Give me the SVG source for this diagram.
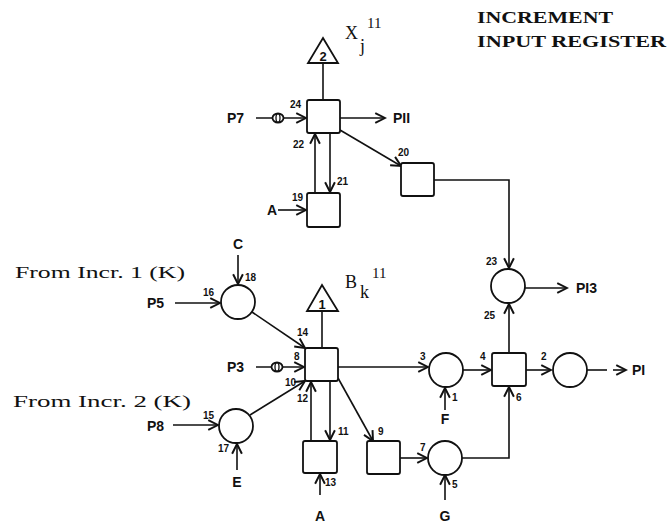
<svg xmlns="http://www.w3.org/2000/svg" width="669" height="527" viewBox="0 0 669 527">
<defs>
<marker id="ah" markerWidth="13" markerHeight="13" refX="10" refY="5" orient="auto" markerUnits="userSpaceOnUse" viewBox="0 0 12 10">
<path d="M1,0.5 L10,5 L1,9.5" fill="none" stroke="#111" stroke-width="1.8"/>
</marker>
</defs>
<style>
.n{fill:#fff;stroke:#111;stroke-width:1.8}
.c{fill:none;stroke:#111;stroke-width:1.6}
.a{fill:none;stroke:#111;stroke-width:1.6;marker-end:url(#ah)}
.l{font-family:"Liberation Sans",Arial,sans-serif;font-weight:bold;font-size:14px;fill:#111}
.s{font-family:"Liberation Sans",Arial,sans-serif;font-weight:bold;font-size:10px;fill:#111}
.d{font-family:"Liberation Sans",Arial,sans-serif;font-weight:bold;font-size:13px;fill:#111}
.t{font-family:"Liberation Serif","Times New Roman",serif;font-size:17px;fill:#111}
.x{font-family:"Liberation Serif","Times New Roman",serif;font-size:18px;fill:#111}
.u{font-family:"Liberation Serif","Times New Roman",serif;font-size:15px;fill:#111}
.tb{font-family:"Liberation Serif","Times New Roman",serif;font-size:17px;fill:#111;font-weight:bold}
</style>
<rect width="669" height="527" fill="#fff"/>

<g id="title">
<text class="tb" x="477" y="23" textLength="136" lengthAdjust="spacingAndGlyphs">INCREMENT</text>
<text class="tb" x="477" y="47" textLength="189" lengthAdjust="spacingAndGlyphs">INPUT REGISTER</text>
</g>
<g id="incr1"><text class="t" x="15" y="278" textLength="170" lengthAdjust="spacingAndGlyphs">From Incr. 1 (K)</text></g>
<g id="incr2"><text class="t" x="13" y="407" textLength="178" lengthAdjust="spacingAndGlyphs">From Incr. 2 (K)</text></g>

<g id="connectors">
<line class="c" x1="323" y1="63" x2="323" y2="100"/>
<line class="a" x1="256" y1="118" x2="306" y2="118"/>
<line class="a" x1="340" y1="118" x2="385" y2="118"/>
<line class="a" x1="315" y1="193" x2="315" y2="134"/>
<line class="a" x1="330" y1="133" x2="330" y2="192"/>
<line class="a" x1="278" y1="210" x2="306" y2="210"/>
<line class="a" x1="340" y1="130" x2="401" y2="166"/>
<polyline class="a" points="434,180 509,180 509,268"/>
<line class="a" x1="525" y1="288" x2="567" y2="288"/>
<line class="a" x1="509" y1="353" x2="509" y2="304"/>
<line class="a" x1="238" y1="255" x2="238" y2="284"/>
<line class="a" x1="175" y1="303" x2="220" y2="303"/>
<line class="a" x1="252" y1="312" x2="305" y2="348"/>
<line class="c" x1="322" y1="311" x2="322" y2="348"/>
<line class="a" x1="256" y1="367" x2="304" y2="367"/>
<line class="a" x1="338" y1="367" x2="428" y2="367"/>
<line class="a" x1="173" y1="425" x2="218" y2="425"/>
<line class="a" x1="237" y1="470" x2="237" y2="444"/>
<line class="a" x1="250" y1="415" x2="305" y2="381"/>
<line class="a" x1="311" y1="441" x2="311" y2="382"/>
<line class="a" x1="330" y1="381" x2="330" y2="440"/>
<line class="a" x1="320" y1="495" x2="320" y2="474"/>
<line class="a" x1="338" y1="378" x2="373" y2="441"/>
<line class="a" x1="400" y1="458" x2="427" y2="458"/>
<line class="a" x1="445" y1="500" x2="445" y2="475"/>
<line class="a" x1="445" y1="410" x2="445" y2="388"/>
<polyline class="a" points="462,458 509,458 509,387"/>
<line class="a" x1="463" y1="370" x2="491" y2="370"/>
<line class="a" x1="526" y1="370" x2="551" y2="370"/>
<line class="c" x1="587" y1="370" x2="607" y2="370"/>
<line class="a" x1="613" y1="370" x2="626" y2="370"/>
</g>

<g id="n2"><path class="n" d="M323,38 L338,63 L308,63 Z"/><text class="d" x="323" y="61" text-anchor="middle">2</text></g>
<g id="xj"><text class="x" x="345" y="39">X</text><text class="x" x="360" y="52">j</text><text class="u" x="367" y="28">11</text></g>
<g id="n24"><rect class="n" x="307" y="100" width="33" height="33" rx="2"/></g>
<g id="p7"><text class="l" x="227" y="123">P7</text>
<ellipse cx="278" cy="118" rx="5.5" ry="4.5" class="n"/><ellipse cx="278" cy="118" rx="2" ry="4.3" fill="none" stroke="#111" stroke-width="1.3"/></g>
<g id="p11"><text class="l" x="393" y="123">PII</text></g>
<g id="n19"><rect class="n" x="307" y="193" width="33" height="34" rx="2"/></g>
<g id="n20"><rect class="n" x="401" y="163" width="33" height="33" rx="2"/></g>
<g id="n23"><circle class="n" cx="508" cy="286" r="17"/><text class="l" x="576" y="293">PI3</text></g>
<g id="n16"><circle class="n" cx="238" cy="302" r="17"/></g>
<g id="n1"><path class="n" d="M322,285 L338,311 L307,311 Z"/><text class="d" x="322" y="309" text-anchor="middle">1</text></g>
<g id="bk"><text class="x" x="345" y="288">B</text><text class="x" x="360" y="298">k</text><text class="u" x="372" y="278">11</text></g>
<g id="n8"><rect class="n" x="305" y="348" width="33" height="33" rx="2"/></g>
<g id="p3"><text class="l" x="227" y="372">P3</text>
<ellipse cx="277" cy="367" rx="5.5" ry="4.5" class="n"/><ellipse cx="277" cy="367" rx="2" ry="4.3" fill="none" stroke="#111" stroke-width="1.3"/></g>
<g id="n15"><circle class="n" cx="236" cy="426" r="17"/></g>
<g id="n13"><rect class="n" x="303" y="441" width="34" height="32" rx="2"/></g>
<g id="n9"><rect class="n" x="367" y="441" width="33" height="33" rx="2"/></g>
<g id="n3"><circle class="n" cx="446" cy="370" r="17"/></g>
<g id="n7"><circle class="n" cx="445" cy="458" r="17"/></g>
<g id="n4"><rect class="n" x="492" y="353" width="34" height="33" rx="2"/></g>
<g id="n2c"><circle class="n" cx="570" cy="370" r="17"/><text class="l" x="632" y="375">PI</text></g>

<g id="labels">
<text class="l" x="238" y="249" text-anchor="middle">C</text>
<text class="l" x="147" y="308">P5</text>
<text class="l" x="147" y="431">P8</text>
<text class="l" x="237" y="487" text-anchor="middle">E</text>
<text class="l" x="267" y="215">A</text>
<text class="l" x="320" y="521" text-anchor="middle">A</text>
<text class="l" x="445" y="424" text-anchor="middle">F</text>
<text class="l" x="445" y="521" text-anchor="middle">G</text>
<text class="s" x="290" y="108">24</text>
<text class="s" x="293" y="148">22</text>
<text class="s" x="337" y="185">21</text>
<text class="s" x="292" y="201">19</text>
<text class="s" x="398" y="156">20</text>
<text class="s" x="486" y="265">23</text>
<text class="s" x="484" y="319">25</text>
<text class="s" x="245" y="281">18</text>
<text class="s" x="203" y="296">16</text>
<text class="s" x="297" y="336">14</text>
<text class="s" x="294" y="360">8</text>
<text class="s" x="285" y="386">10</text>
<text class="s" x="297" y="402">12</text>
<text class="s" x="338" y="435">11</text>
<text class="s" x="203" y="419">15</text>
<text class="s" x="218" y="452">17</text>
<text class="s" x="325" y="486">13</text>
<text class="s" x="378" y="435">9</text>
<text class="s" x="420" y="451">7</text>
<text class="s" x="452" y="488">5</text>
<text class="s" x="420" y="360">3</text>
<text class="s" x="452" y="401">1</text>
<text class="s" x="480" y="360">4</text>
<text class="s" x="541" y="360">2</text>
<text class="s" x="516" y="401">6</text>
</g>
</svg>
